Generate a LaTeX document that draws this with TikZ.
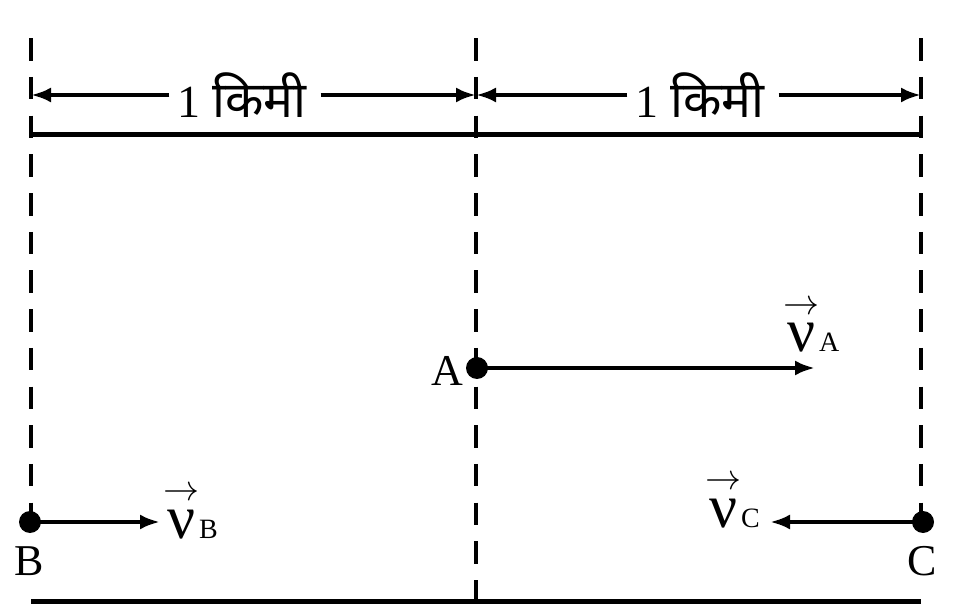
\documentclass[tikz,border=0pt]{standalone}
\usepackage{fontspec}
\setmainfont{Liberation Serif}
\newfontfamily\devfont[Script=Devanagari]{Noto Sans}
\usetikzlibrary{arrows.meta}
\newcommand\velo[1]{\begin{tabular}[b]{@{}c@{}}\resizebox{36pt}{!}{$\rightarrow$}\\{\fontsize{62}{62}\selectfont ν}\end{tabular}{\fontsize{28}{28}\selectfont #1}}
\tikzset{
  guide/.style={line width=4.5pt, dash pattern=on 22.5pt off 16.2pt},
  rail/.style={line width=5pt},
  dimarrow/.style={line width=4pt, -{Latex[length=20pt,width=15pt]}},
  velarrow/.style={line width=4pt, -{Latex[length=20pt,width=15pt]}},
  body/.style={circle, fill=black, inner sep=0pt, minimum size=22pt},
  lbl/.style={font=\fontsize{44}{44}\selectfont, inner sep=0pt},
  dimtext/.style={font=\fontsize{46}{46}\selectfont, inner sep=0pt},
  veltext/.style={inner sep=0pt, align=center, font=\fontsize{30}{30}\selectfont}
}
\begin{document}
\begin{tikzpicture}[x=1pt,y=1pt]
\useasboundingbox (0,0) rectangle (953,608);
% bodies
\node[body] (A) at (477,240) {};
\node[body] (B) at (30,86) {};
\node[body] (C) at (923,86) {};
% guide lines
\coordinate (gBt) at (31,569.7);
\coordinate (gAt) at (476,569.7); \coordinate (gAb) at (476,8);
\coordinate (gCt) at (921,569.7);
\draw[guide] (gBt) -- (gBt |- B.center);
\draw[guide] (gAt) -- (gAb);
\draw[guide] (gCt) -- (gCt |- C.center);
% rails
\coordinate (tL) at (31,473); \coordinate (tR) at (921,473);
\coordinate (bL) at (31,7); \coordinate (bR) at (921,7);
\draw[rail] (tL) -- (tR);
\draw[rail] (bL) -- (bR);
% dimensions
\coordinate (dB) at (31,513); \coordinate (dA) at (476,513); \coordinate (dC) at (921,513);
\node[dimtext] (km1) at (242,513) {1 {\devfont\fontsize{50}{50}\selectfont किमी}};
\node[dimtext] (km2) at (700,513) {1 {\devfont\fontsize{50}{50}\selectfont किमी}};
\draw[dimarrow] ([xshift=-8pt]km1.west) -- (dB);
\draw[dimarrow] ([xshift=14pt]km1.east) -- (dA);
\draw[dimarrow] ([xshift=-8pt]km2.west) -- (dA);
\draw[dimarrow] ([xshift=14pt]km2.east) -- (dC);
% labels
\node[lbl] (Alab) at (447,237) {A};
\node[lbl, anchor=north] (Blab) at (29,62) {B};
\node[lbl, anchor=north] (Clab) at (922,62) {C};
% velocity arrows
\coordinate (vAend) at (815,240);
\coordinate (vBend) at (160,86);
\coordinate (vCend) at (770,86);
\draw[velarrow] (A.center) -- (vAend);
\draw[velarrow] (B.center) -- (vBend);
\draw[velarrow] (C.center) -- (vCend);
\node[veltext, anchor=base west] (vA) at (783,256) {\velo{A}};
\node[veltext, anchor=base west] (vB) at (163,70) {\velo{B}};
\node[veltext, anchor=base west] (vC) at (705,81) {\velo{C}};
\end{tikzpicture}
\end{document}
